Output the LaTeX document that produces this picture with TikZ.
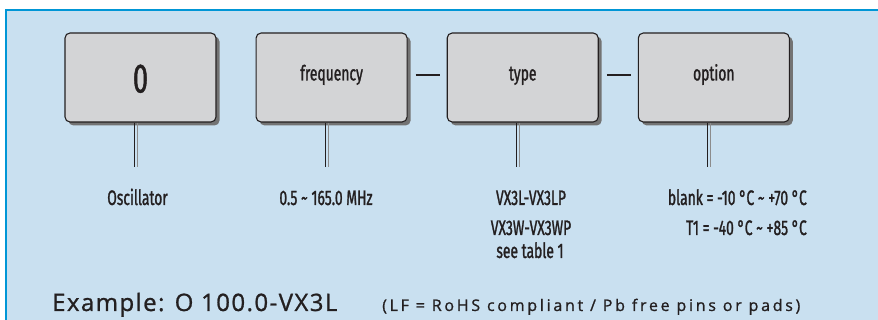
\documentclass[tikz,border=0pt]{standalone}
\usepackage{fontspec}
\setmainfont{Fira Sans}
\newfontfamily\narrowfont[FakeStretch=0.66,FakeBold=1.2]{Fira Sans}
\newfontfamily\examplefont[LetterSpace=6,FakeBold=1]{Open Sans}
\newfontfamily\notefont[LetterSpace=17,FakeBold=1]{Open Sans}
\usetikzlibrary{positioning,shadows}
\definecolor{panelblue}{HTML}{C9E0F0}
\definecolor{rimblue}{HTML}{0096D6}
\definecolor{boxgray}{HTML}{D3D4D6}
\definecolor{ink}{HTML}{231F20}

\begin{document}
\begin{tikzpicture}[x=1pt,y=-1pt,
        every node/.style={text=ink},
        box/.style={draw=ink,line width=1.1pt,rectangle,rounded corners=5pt,fill=boxgray,
            minimum width=151pt,minimum height=89pt,inner sep=0pt,
            font=\narrowfont\fontsize{21}{21}\selectfont,text height=16pt,text depth=10pt,
            drop shadow={shadow xshift=3.5pt,shadow yshift=-3.5pt,fill=black!55,opacity=1},
            node distance=39pt},
        dashline/.style={draw=ink,line width=1.3pt,shorten <=8pt,shorten >=7pt},
        stem/.style={draw=ink,line width=1.2pt},
        stemshade/.style={draw=black!45,line width=1.2pt},
        label/.style={font=\narrowfont\fontsize{21}{21}\selectfont,anchor=base,inner sep=0pt}]
   \useasboundingbox (0,0) rectangle (878,320);
   \fill[white] (0,0) rectangle (878,320);
   \fill[panelblue] (6,10) rectangle (880,322);
   \draw[rimblue,line width=2.2pt] (6,322) -- (6,10) -- (880,10);

   \node (zero) [box,text height=30pt,text depth=0pt,font=\narrowfont\fontsize{41}{41}\selectfont] at (140.5,77.5) {0};
   \node (freq) [box,right=of zero] {frequency};
   \node (type) [box,right=of freq] {type};
   \node (opt)  [box,right=of type] {option};

   \draw[dashline] ([yshift=2.5pt]freq.east) -- ([yshift=2.5pt]type.west);
   \draw[dashline] ([yshift=2.5pt]type.east) -- ([yshift=2.5pt]opt.west);

   % stems below the boxes
   \foreach \b in {zero,freq,type,opt} {
      \coordinate (\b top) at ([xshift=-6pt]\b.south);
      \coordinate (\b end) at ([yshift=-44pt]\b top);
      \draw[stemshade] ([xshift=2.8pt]\b top) -- ([xshift=2.8pt]\b end);
      \draw[stem] (\b top) -- (\b end);
   }

   \node (osc)   [label] at (137.5,205) {Oscillator};
   \node (range) [label] at (326,205) {0.5 \textasciitilde{} 165.0 MHz};
   \node (typea) [label] at (531,205) {VX3L-VX3LP};
   \node (typeb) [label] at (531,235) {VX3W-VX3WP};
   \node (typec) [label] at (530,258) {see table 1};
   \node (opta)  [label,anchor=base east] at (807,205) {blank = -10 °C \textasciitilde{} +70 °C};
   \node (optb)  [label,anchor=base east] at (807,235) {T1 = -40 °C \textasciitilde{} +85 °C};

   \node (ex)   [anchor=base west,inner sep=0pt,font=\examplefont\fontsize{24}{24}\selectfont] at (52,311) {Example: O 100.0-VX3L};
   \node (note) [anchor=base west,inner sep=0pt,font=\notefont\fontsize{16}{16}\selectfont] at (382,311) {(LF = RoHS compliant / Pb free pins or pads)};
\end{tikzpicture}
\end{document}
